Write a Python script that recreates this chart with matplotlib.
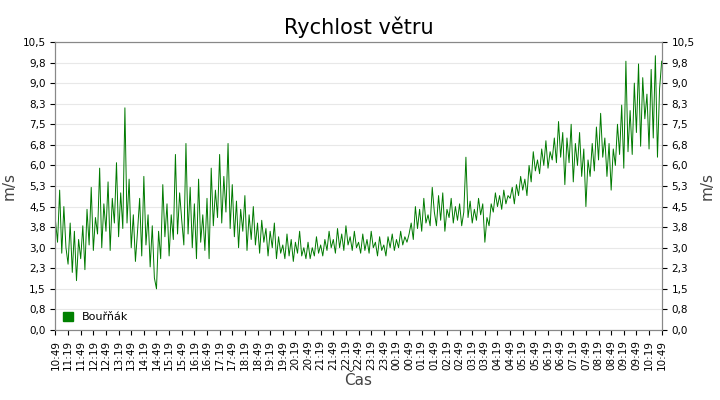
import matplotlib
matplotlib.use("Agg")
import matplotlib.pyplot as plt
import numpy as np
from matplotlib.patches import Patch

tick_labels = ["10:49","11:19","11:49","12:19","12:49","13:19","13:49","14:19","14:49","15:19","15:49","16:19",
"16:49","17:19","17:49","18:19","18:49","19:19","19:49","20:19","20:49","21:19","21:49","22:19",
"22:49","23:19","23:49","00:19","00:49","01:19","01:49","02:19","02:49","03:19","03:49","04:19",
"04:49","05:19","05:49","06:19","06:49","07:19","07:49","08:19","08:49","09:19","09:49","10:19","10:49"]

wind = [
4.0,3.2,5.1,2.8,4.5,3.0,2.4,3.9,2.1,3.6,1.8,3.3,
2.6,3.8,2.2,4.4,3.1,5.2,2.9,4.1,3.5,5.9,3.0,4.6,
3.6,5.4,2.9,4.8,3.9,6.1,3.4,5.0,3.7,8.1,3.9,5.5,
3.0,4.2,2.5,3.6,4.8,2.7,5.6,3.1,4.2,2.3,3.8,1.9,
1.5,3.6,2.6,5.3,3.4,4.6,2.7,4.2,3.3,6.4,3.5,5.0,
4.0,3.1,6.8,3.5,5.2,3.0,4.6,2.6,5.5,3.2,4.2,2.9,
4.8,2.6,5.9,3.8,5.1,4.1,6.4,3.9,5.6,4.3,6.8,3.7,
5.3,3.4,4.7,3.0,4.4,3.6,4.9,2.9,4.2,3.3,4.5,3.1,
3.9,2.8,4.0,3.2,3.7,2.7,3.6,3.0,3.9,2.6,3.4,2.8,
3.1,2.6,3.5,2.7,3.3,2.5,3.2,2.8,3.6,2.7,3.0,2.6,
3.2,2.6,3.0,2.7,3.4,2.8,3.1,2.7,3.3,2.9,3.6,3.0,
3.3,2.8,3.7,3.0,3.5,2.9,3.8,3.1,3.4,2.9,3.6,3.0,
3.2,2.8,3.5,2.9,3.3,2.8,3.6,3.0,3.2,2.7,3.4,2.9,
3.1,2.7,3.4,3.0,3.5,2.9,3.3,3.0,3.6,3.1,3.4,3.2,
3.5,3.9,3.3,4.5,3.7,4.4,3.6,4.8,3.9,4.2,3.8,5.2,
4.3,3.8,4.9,4.0,5.0,3.6,4.4,4.1,4.8,3.9,4.5,4.0,
4.6,3.8,4.3,6.3,4.1,4.7,3.9,4.4,4.0,4.8,4.2,4.6,
3.2,4.1,3.8,4.6,4.3,5.0,4.5,4.9,4.4,5.1,4.6,4.9,
4.8,5.2,4.6,5.3,4.9,5.6,5.1,5.5,4.9,6.0,5.4,6.5,
5.8,6.2,5.7,6.6,6.0,6.9,5.9,6.5,6.2,7.0,6.1,7.6,
6.3,7.2,5.3,7.0,6.1,7.5,5.4,6.8,6.0,7.2,5.6,6.6,
4.5,6.2,5.6,6.8,5.8,7.4,6.2,7.9,6.3,7.0,5.6,6.8,
5.1,6.6,6.0,7.5,6.4,8.2,5.9,9.8,6.5,8.0,6.4,9.0,
7.2,9.7,6.7,9.2,7.7,8.6,6.6,9.5,7.0,10.0,6.3,8.8,9.8]

y_ticks = [0, 0.75, 1.5, 2.25, 3.0, 3.75, 4.5, 5.25, 6.0, 6.75, 7.5, 8.25, 9.0, 9.75, 10.5]
y_labels = ["0,0","0,8","1,5","2,3","3,0","3,8","4,5","5,3","6,0","6,8","7,5","8,3","9,0","9,8","10,5"]

x = np.arange(len(wind)) * 5
fig = plt.figure(figsize=(7.2, 4.0), dpi=100)
ax = fig.add_axes([0.077, 0.175, 0.842, 0.72])
ax.plot(x, wind, color="#007a00", lw=0.7)
ax.set_xlim(0, 1440)
ax.set_ylim(0, 10.5)
ax.set_yticks(y_ticks)
ax.set_yticklabels(y_labels, fontsize=7.5)
ax.set_xticks(np.arange(len(tick_labels)) * 30)
ax.set_xticklabels(tick_labels, rotation=90, fontsize=7.5)
ax.grid(axis="y", color="#e8e8e8", lw=0.8)
ax.set_axisbelow(True)
ax.set_ylabel("m/s", fontsize=11, color="#444")
ax.set_xlabel("Čas", fontsize=11, color="#444", labelpad=2)
ax.set_title("Rychlost větru", fontsize=15, pad=6)
for s in ax.spines.values():
    s.set_color("#888")
ax2 = ax.twinx()
ax2.set_ylim(0, 10.5)
ax2.set_yticks(y_ticks)
ax2.set_yticklabels(y_labels, fontsize=7.5)
ax2.set_ylabel("m/s", fontsize=11, color="#444")
for s in ax2.spines.values():
    s.set_color("#888")
ax.legend(handles=[Patch(color="#008000", label="Bouřňák")], loc="lower left", fontsize=8,
          frameon=False, handlelength=0.9, handleheight=0.9, borderaxespad=0.3)
fig.savefig("out.png", dpi=100)
